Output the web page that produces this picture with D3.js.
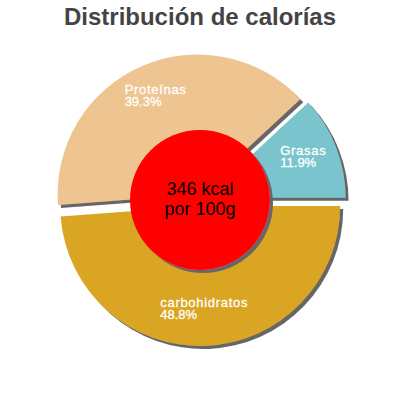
<!DOCTYPE html>
<html>
<head>
<meta charset="utf-8">
<script src="https://cdn.jsdelivr.net/npm/d3@7"></script>
<style>
  body { margin: 0; background: #fff; }
  text { font-family: "Liberation Sans", Arial, sans-serif; }
</style>
</head>
<body>
<div id="chart"></div>
<script>
var w = 400, h = 400;

// data, counterclockwise from 3 o'clock
var categories = ["Grasas", "Proteínas", "carbohidratos"];
var values = [11.9, 39.3, 48.8];
var colors = ["#7AC5CD", "#EEC591", "#DAA520"];
var centerLines = ["346 kcal", "por 100g"];
var title = "Distribución de calorías";

var cx = 200, cy = 200, r = 140, explode = 6, labelR = 105;

var svg = d3.select("#chart")
    .append("svg")
    .attr("width", w)
    .attr("height", h);

var filter = svg.append("defs")
    .append("filter")
    .attr("id", "shadow")
    .attr("x", "-10%").attr("y", "-10%")
    .attr("width", "130%").attr("height", "130%");

filter.append("feDropShadow")
    .attr("dx", 3)
    .attr("dy", 3)
    .attr("stdDeviation", 0.3)
    .attr("flood-color", "#666")
    .attr("flood-opacity", 1);

svg.append("text")
    .attr("x", w / 2)
    .attr("y", 25)
    .attr("text-anchor", "middle")
    .style("font-size", "24px")
    .style("font-weight", "bold")
    .style("fill", "#444")
    .text(title);

var pie = d3.pie()
    .sort(null)
    .startAngle(Math.PI / 2)
    .endAngle(Math.PI / 2 - 2 * Math.PI);

var arcs = pie(values);

var arc = d3.arc()
    .innerRadius(0)
    .outerRadius(r);

function mid(d) { return (d.startAngle + d.endAngle) / 2; }

var g = svg.append("g")
    .attr("transform", "translate(" + cx + "," + cy + ")");

var slices = g.selectAll(".slice")
    .data(arcs)
    .enter()
    .append("g")
    .attr("class", "slice")
    .attr("transform", function(d) {
        var a = mid(d);
        return "translate(" + (Math.sin(a) * explode) + "," + (-Math.cos(a) * explode) + ")";
    });

slices.append("path")
    .attr("d", arc)
    .style("fill", function(d, i) { return colors[i]; })
    .attr("filter", "url(#shadow)");

// red centre
g.append("circle")
    .attr("r", 70)
    .style("fill", "#FF0000")
    .attr("filter", "url(#shadow)");

g.selectAll(".center")
    .data(centerLines)
    .enter()
    .append("text")
    .attr("class", "center")
    .attr("x", 0)
    .attr("y", function(d, i) { return -5 + i * 20; })
    .attr("text-anchor", "middle")
    .style("font-size", "18px")
    .style("fill", "#000")
    .text(function(d) { return d; });

// labels
var labelArc = d3.arc().innerRadius(labelR).outerRadius(labelR);

slices.each(function(d, i) {
    var c = labelArc.centroid(d);
    var t = d3.select(this).append("text")
        .style("font-size", "13px")
        .style("fill", "#fff")
        .style("stroke", "#fff")
        .style("stroke-width", "0.3px");
    t.append("tspan")
        .attr("y", c[1] - 4)
        .style("letter-spacing", "0.7px")
        .text(categories[i]);
    t.append("tspan")
        .attr("y", c[1] + 8)
        .text(values[i].toFixed(1) + "%");
    var wmax = 0;
    t.selectAll("tspan").each(function() {
        wmax = Math.max(wmax, this.getComputedTextLength());
    });
    t.selectAll("tspan").attr("x", c[0] - wmax / 2);
});
</script>
</body>
</html>
